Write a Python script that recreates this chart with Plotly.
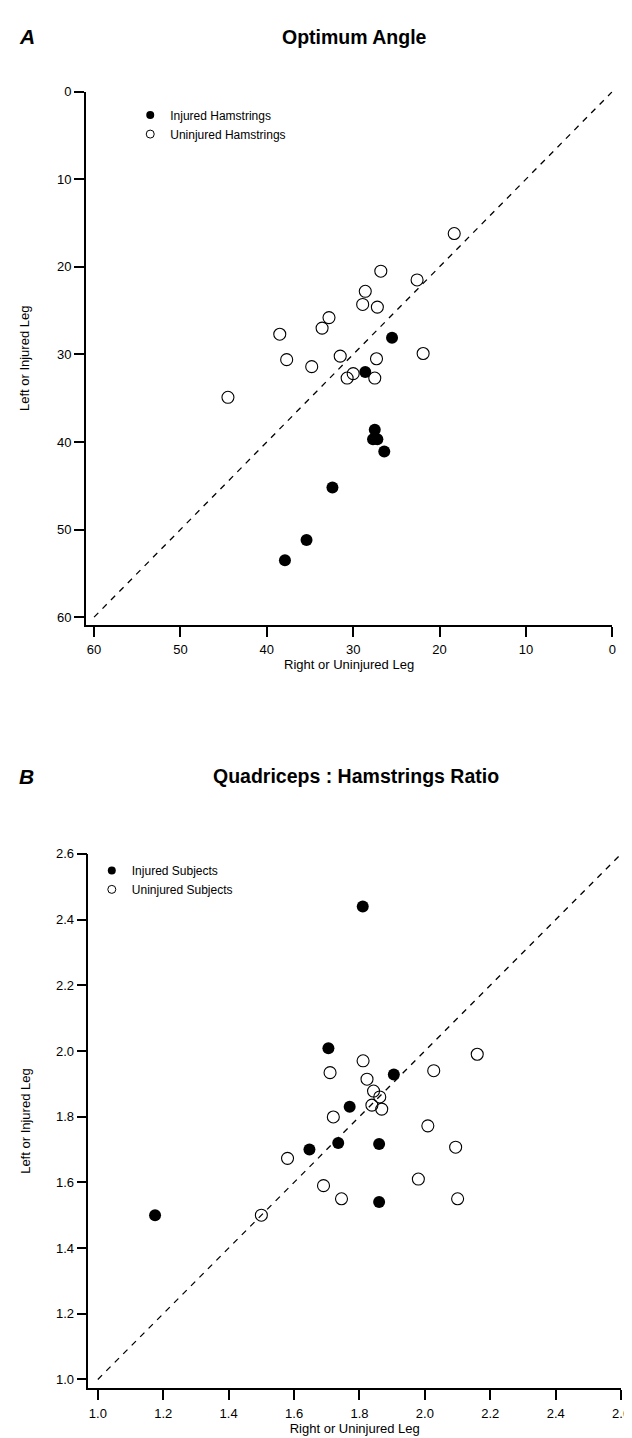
import plotly.graph_objects as go

W, H = 632, 1438
FONT = "Liberation Sans, Arial, sans-serif"

# ---------------- Panel A: Optimum Angle ----------------
a_inj_x = [25.5, 28.6, 27.5, 27.7, 27.2, 26.4, 32.4, 35.4, 37.9]
a_inj_y = [28.1, 32.0, 38.6, 39.7, 39.7, 41.1, 45.2, 51.2, 53.5]
a_uninj_x = [18.3, 26.8, 22.6, 28.6, 28.9, 27.2, 32.8, 33.6, 38.5,
             37.7, 31.5, 27.3, 21.9, 34.8, 30.0, 30.7, 27.5, 44.5]
a_uninj_y = [16.2, 20.5, 21.5, 22.8, 24.3, 24.6, 25.8, 27.0, 27.7,
             30.6, 30.2, 30.5, 29.9, 31.4, 32.2, 32.7, 32.7, 34.9]
a_ticks = [0, 10, 20, 30, 40, 50, 60]
a_diag = [60, 0]

# ---------------- Panel B: Quadriceps : Hamstrings Ratio ----------------
b_inj_x = [1.81, 1.705, 1.905, 1.77, 1.735, 1.86, 1.647, 1.86, 1.175]
b_inj_y = [2.44, 2.008, 1.928, 1.83, 1.72, 1.717, 1.70, 1.54, 1.50]
b_uninj_x = [1.811, 2.16, 1.71, 2.027, 1.823, 1.843, 1.862, 1.838, 1.868,
             1.72, 2.009, 2.094, 1.58, 1.50, 1.69, 1.745, 1.98, 2.10]
b_uninj_y = [1.97, 1.99, 1.934, 1.94, 1.914, 1.878, 1.86, 1.835, 1.823,
             1.799, 1.772, 1.707, 1.673, 1.50, 1.59, 1.55, 1.61, 1.55]
b_ticks = [1.0, 1.2, 1.4, 1.6, 1.8, 2.0, 2.2, 2.4, 2.6]
b_diag = [1.0, 2.6]


def px(v):
    return v / W


def py(v):
    return 1 - v / H


fig = go.Figure()

MS = 12
filled = dict(symbol="circle", size=MS, color="black")
opened = dict(symbol="circle-open", size=MS, color="black", line=dict(width=1.1, color="black"))
leg_filled = dict(symbol="circle", size=8, color="black")
leg_open = dict(symbol="circle-open", size=8, color="black", line=dict(width=1, color="black"))
diag_line = dict(color="black", width=1.3, dash="6px,6px")

# Panel A
fig.add_trace(go.Scatter(x=a_diag, y=a_diag, mode="lines", xaxis="x", yaxis="y",
                         line=diag_line, showlegend=False, hoverinfo="skip"))
fig.add_trace(go.Scatter(x=a_uninj_x, y=a_uninj_y, mode="markers", xaxis="x", yaxis="y",
                         marker=opened, showlegend=False))
fig.add_trace(go.Scatter(x=a_inj_x, y=a_inj_y, mode="markers", xaxis="x", yaxis="y",
                         marker=filled, showlegend=False))
fig.add_trace(go.Scatter(x=[None], y=[None], mode="markers", xaxis="x", yaxis="y",
                         marker=leg_filled, name="Injured Hamstrings", legend="legend"))
fig.add_trace(go.Scatter(x=[None], y=[None], mode="markers", xaxis="x", yaxis="y",
                         marker=leg_open, name="Uninjured Hamstrings", legend="legend"))

# Panel B
fig.add_trace(go.Scatter(x=b_diag, y=b_diag, mode="lines", xaxis="x2", yaxis="y2",
                         line=diag_line, showlegend=False, hoverinfo="skip"))
fig.add_trace(go.Scatter(x=b_uninj_x, y=b_uninj_y, mode="markers", xaxis="x2", yaxis="y2",
                         marker=opened, showlegend=False))
fig.add_trace(go.Scatter(x=b_inj_x, y=b_inj_y, mode="markers", xaxis="x2", yaxis="y2",
                         marker=filled, showlegend=False))
fig.add_trace(go.Scatter(x=[None], y=[None], mode="markers", xaxis="x2", yaxis="y2",
                         marker=leg_filled, name="Injured Subjects", legend="legend2"))
fig.add_trace(go.Scatter(x=[None], y=[None], mode="markers", xaxis="x2", yaxis="y2",
                         marker=leg_open, name="Uninjured Subjects", legend="legend2"))

axis_common = dict(
    showgrid=False, zeroline=False, showline=True, linecolor="black", linewidth=1.5,
    ticks="outside", ticklen=10, tickwidth=1.5, tickcolor="black",
    tickfont=dict(family=FONT, size=13, color="black"),
    title_font=dict(family=FONT, size=13, color="black"),
)

legend_common = dict(xanchor="left", yanchor="top", bgcolor="rgba(0,0,0,0)",
                     font=dict(family=FONT, size=12, color="black"),
                     tracegroupgap=0, itemclick=False)

fig.update_layout(
    width=W, height=H,
    margin=dict(l=0, r=0, t=0, b=0),
    paper_bgcolor="white", plot_bgcolor="white",
    font=dict(family=FONT, color="black"),
    xaxis=dict(domain=[px(79), px(613)], range=[60.95, 0], tickvals=a_ticks, anchor="y",
               ticklabelstandoff=2,
               title=dict(text="Right or Uninjured Leg", standoff=3), **axis_common),
    yaxis=dict(domain=[py(613), py(77)], range=[60.9, 0], tickvals=a_ticks, anchor="x",
               title=dict(text="Left or Injured Leg", standoff=24), **axis_common),
    xaxis2=dict(domain=[px(81.5), px(622)], range=[0.971, 2.6], tickvals=b_ticks, anchor="y2",
                tickformat=".1f", ticklabelstandoff=2,
                title=dict(text="Right or Uninjured Leg", standoff=3), **axis_common),
    yaxis2=dict(domain=[py(1380), py(843)], range=[0.973, 2.6], tickvals=b_ticks, anchor="x2",
                tickformat=".1f",
                title=dict(text="Left or Injured Leg", standoff=22), **axis_common),
    legend=dict(x=px(124), y=py(86), **legend_common),
    legend2=dict(x=px(85), y=py(845), **legend_common),
    annotations=[
        dict(text="<b><i>A</i></b>", x=px(9), y=py(22), xref="paper", yref="paper",
             xanchor="left", yanchor="middle", showarrow=False,
             font=dict(family=FONT, size=21, color="black")),
        dict(text="<b>Optimum Angle</b>", x=px(351), y=py(22), xref="paper", yref="paper",
             xanchor="center", yanchor="middle", showarrow=False,
             font=dict(family=FONT, size=19.5, color="black")),
        dict(text="<b><i>B</i></b>", x=px(9), y=py(765), xref="paper", yref="paper",
             xanchor="left", yanchor="middle", showarrow=False,
             font=dict(family=FONT, size=21, color="black")),
        dict(text="<b>Quadriceps : Hamstrings Ratio</b>", x=px(353), y=py(765), xref="paper", yref="paper",
             xanchor="center", yanchor="middle", showarrow=False,
             font=dict(family=FONT, size=19.5, color="black")),
    ],
)

fig.write_html("out.html")
